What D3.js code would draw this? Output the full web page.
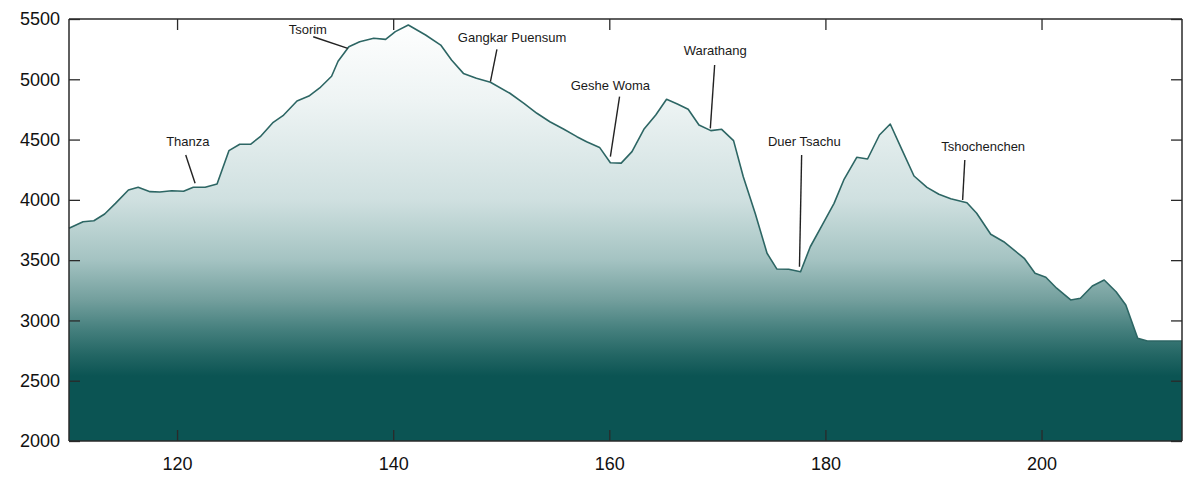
<!DOCTYPE html>
<html>
<head>
<meta charset="utf-8">
<script src="https://cdn.jsdelivr.net/npm/d3@7"></script>
<style>
  html, body { margin: 0; padding: 0; background: #fff; }
  svg { display: block; font-family: "Liberation Sans", Arial, sans-serif; }
</style>
</head>
<body>
<svg id="chart" width="1200" height="486"></svg>
<script>
// ---- data ----
const distance = [110, 111.3, 112.3, 113.3, 114.3, 115.5, 116.4, 117.5, 118.4, 119.5,
  120.6, 121.5, 122.6, 123.7, 124.8, 125.8, 126.8, 127.7, 128.9, 129.8,
  131.1, 132.2, 133.2, 134.3, 134.9, 135.9, 136.9, 138.2, 139.3, 140.2,
  141.4, 143.0, 144.4, 145.4, 146.5, 147.7, 149.0, 150.8, 152.1, 153.3,
  154.5, 155.8, 157.0, 157.9, 159.1, 160.1, 161.1, 162.1, 163.2, 164.3,
  165.3, 166.3, 167.3, 168.3, 169.4, 170.4, 171.5, 172.4, 173.5, 174.6,
  175.5, 176.6, 177.7, 178.6, 179.7, 180.8, 181.7, 182.9, 183.9, 185.0,
  186.0, 187.1, 188.2, 189.4, 190.5, 191.6, 193.1, 194.0, 195.3, 196.5,
  198.4, 199.4, 200.4, 201.4, 202.7, 203.6, 204.7, 205.8, 206.9, 207.8,
  208.9, 209.8, 213];
const elevation = [3765, 3819, 3827, 3883, 3971, 4082, 4104, 4068, 4065, 4076,
  4071, 4104, 4104, 4131, 4408, 4461, 4461, 4524, 4643, 4698,
  4820, 4861, 4928, 5025, 5150, 5270, 5312, 5340, 5331, 5395,
  5450, 5367, 5284, 5160, 5049, 5008, 4975, 4884, 4801, 4718,
  4648, 4585, 4524, 4482, 4435, 4308, 4305, 4400, 4585, 4704,
  4834, 4795, 4751, 4621, 4574, 4585, 4491, 4192, 3889, 3557,
  3427, 3424, 3404, 3611, 3791, 3971, 4165, 4353, 4339, 4538,
  4629, 4413, 4198, 4104, 4046, 4010, 3976, 3889, 3715, 3653,
  3515, 3391, 3358, 3267, 3170, 3184, 3286, 3335, 3238, 3128,
  2852, 2829, 2829];

const xTicks = [120, 140, 160, 180, 200];
const yTicks = [2000, 2500, 3000, 3500, 4000, 4500, 5000, 5500];

// pass annotations: label anchor (distance, elevation) and leader line ends
const passNames = ["Thanza", "Tsorim", "Gangkar Puensum", "Geshe Woma", "Warathang", "Duer Tsachu", "Tshochenchen"];
const labelDist = [121.0, 132.1, 151.0, 160.1, 169.8, 178.05, 194.6];
const labelElev = [4480, 5417, 5345, 4947, 5235, 4488, 4441];
const leaderTop = [[120.8, 4372], [132.6, 5353], [149.6, 5249], [160.95, 4856], [169.75, 5118], [177.8, 4372], [192.9, 4331]];
const leaderEnd = [[121.67, 4137], [135.8, 5257], [149.0, 4980], [160.1, 4358], [169.35, 4593], [177.6, 3446], [192.7, 3999]];

// ---- layout ----
const svg = d3.select("#chart");
const mLeft = 69, mRight = 1182, mTop = 19, mBottom = 441;

const x = d3.scaleLinear().domain([110, 213]).range([mLeft, mRight]);
const y = d3.scaleLinear().domain([2000, 5500]).range([mBottom, mTop]);

const pts = distance.map((d, i) => ({ d, e: elevation[i] }));

// gradient
const defs = svg.append("defs");
const grad = defs.append("linearGradient")
  .attr("id", "fillGrad")
  .attr("gradientUnits", "userSpaceOnUse")
  .attr("x1", 0).attr("x2", 0)
  .attr("y1", mTop).attr("y2", mBottom);
const stops = [
  [mTop, "#ffffff"], [100, "#eef4f4"], [200, "#cfe0e0"], [260, "#a4c3c2"],
  [300, "#739f9d"], [330, "#447f7d"], [355, "#236664"], [376, "#0b5453"], [mBottom, "#0b5453"]
];
stops.forEach(([py, c]) => grad.append("stop")
  .attr("offset", (py - mTop) / (mBottom - mTop)).attr("stop-color", c));

svg.append("path")
  .datum(pts)
  .attr("fill", "url(#fillGrad)")
  .attr("d", d3.area().x(p => x(p.d)).y0(y(2000)).y1(p => y(p.e)));

svg.append("path")
  .datum(pts)
  .attr("fill", "none")
  .attr("stroke", "#2d6664")
  .attr("stroke-width", 1.6)
  .attr("stroke-linejoin", "round")
  .attr("d", d3.line().x(p => x(p.d)).y(p => y(p.e)));

// axes box with inward ticks
const axisColor = "#2a2a2a";
const tickLen = 11;
const leftAxis = svg.append("g").attr("transform", `translate(${mLeft},0)`)
  .call(d3.axisLeft(y).tickValues(yTicks).tickSize(-tickLen).tickPadding(9).tickFormat(d3.format("d")));
const rightAxis = svg.append("g").attr("transform", `translate(${mRight},0)`)
  .call(d3.axisRight(y).tickValues(yTicks).tickSize(-tickLen).tickFormat(""));
const topAxis = svg.append("g").attr("transform", `translate(0,${mTop})`)
  .call(d3.axisTop(x).tickValues(xTicks).tickSize(-tickLen).tickFormat(""));
const bottomAxis = svg.append("g").attr("transform", `translate(0,${mBottom})`)
  .call(d3.axisBottom(x).tickValues(xTicks).tickSize(-tickLen).tickPadding(16).tickFormat(d3.format("d")));

[leftAxis, rightAxis, topAxis, bottomAxis].forEach(g => {
  g.select(".domain").attr("stroke", axisColor).attr("stroke-width", 1.5);
  g.selectAll(".tick line").attr("stroke", axisColor).attr("stroke-width", 1.3);
  g.selectAll(".tick text").attr("fill", "#111").style("font-size", "18px")
    .style("font-family", "'Liberation Sans', Arial, sans-serif");
});
leftAxis.select(".domain").attr("d", `M0,${mTop}V${mBottom}`);
rightAxis.select(".domain").attr("d", `M0,${mTop}V${mBottom}`);
topAxis.select(".domain").attr("d", `M${mLeft},0H${mRight}`);
bottomAxis.select(".domain").attr("d", `M${mLeft},0H${mRight}`);

// annotations
const ann = svg.append("g");
passNames.forEach((name, i) => {
  ann.append("line")
    .attr("x1", x(leaderTop[i][0])).attr("y1", y(leaderTop[i][1]))
    .attr("x2", x(leaderEnd[i][0])).attr("y2", y(leaderEnd[i][1]))
    .attr("stroke", "#222").attr("stroke-width", 1.4);
  ann.append("text")
    .attr("x", x(labelDist[i])).attr("y", y(labelElev[i]))
    .attr("text-anchor", "middle").attr("dominant-baseline", "central")
    .attr("fill", "#1a1a1a").style("font-size", "13px")
    .text(name);
});
</script>
</body>
</html>
